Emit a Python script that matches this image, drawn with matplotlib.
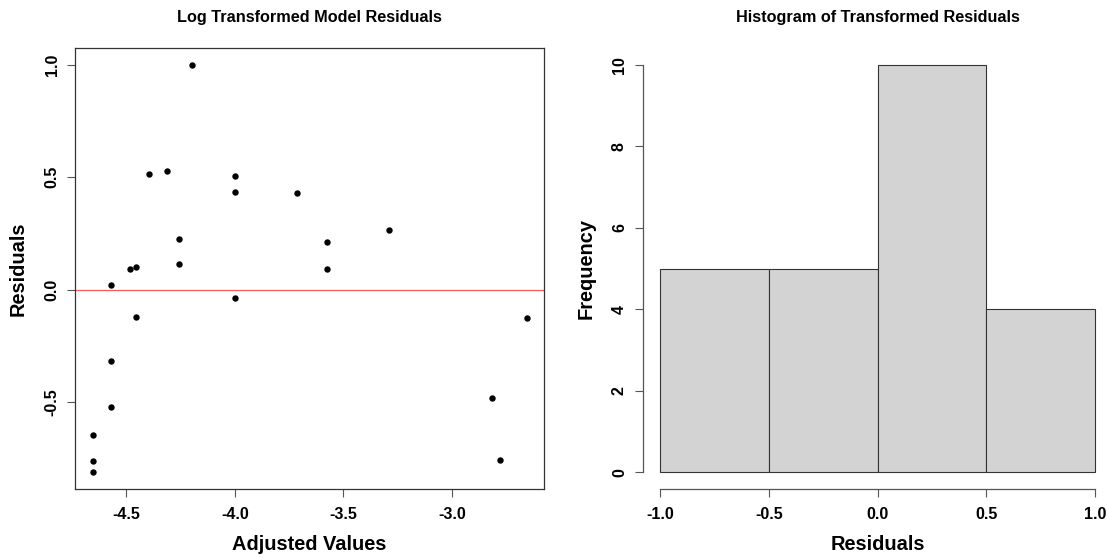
import numpy as np
import matplotlib
matplotlib.use("Agg")
from matplotlib import pyplot as plt

plt.rcParams['font.family'] = ['Liberation Sans', 'DejaVu Sans']
plt.rcParams['font.weight'] = 'bold'

# fitted (adjusted) values and residuals of the log model
adjusted = [-4.198, -4.398, -4.313, -4.000, -4.000, -3.716, -3.288, -4.257,
            -3.575, -4.257, -3.575, -4.482, -4.455, -4.570, -4.000, -4.455,
            -4.570, -4.570, -4.656, -4.656, -4.656, -2.816, -2.778, -2.655]
residuals = [1.000, 0.513, 0.528, 0.506, 0.436, 0.429, 0.265, 0.224,
             0.211, 0.114, 0.092, 0.092, 0.099, 0.020, -0.039, -0.123,
             -0.316, -0.523, -0.644, -0.760, -0.812, -0.482, -0.756, -0.126]

hist_breaks = [-1.0, -0.5, 0.0, 0.5, 1.0]
x_ticks_left = [-4.5, -4.0, -3.5, -3.0]
y_ticks_left = [-0.5, 0.0, 0.5, 1.0]
y_ticks_right = [0, 2, 4, 6, 8, 10]

W, H = 1107, 557
fig = plt.figure(figsize=(W / 100, H / 100), dpi=100)

line_col = '#333333'
tick_len = 8 * 0.72

def px(x, y):
    return x / W, 1 - y / H

def style_axis(ax):
    ax.tick_params(length=tick_len, width=0.8, color='#555555', labelsize=11.5,
                   direction='out')
    ax.tick_params(axis='x', pad=7.5)
    ax.tick_params(axis='y', pad=5.5)
    for lab in ax.get_yticklabels():
        lab.set_rotation(90)
        lab.set_va('center')
    for lab in ax.get_xticklabels() + ax.get_yticklabels():
        lab.set_fontweight('bold')

# ---- left: residuals vs adjusted values
ax1 = fig.add_axes([75.3 / W, 1 - 488.7 / H, 468.7 / W, 440.4 / H])
ax1.plot(adjusted, residuals, 'o', color='black', ms=4.6, mec='black', mew=0)
ax1.margins(0.04)
ax1.axhline(0, color='red', lw=0.9, alpha=0.65)
ax1.set_xticks(x_ticks_left)
ax1.set_xticklabels(['%.1f' % v for v in x_ticks_left])
ax1.set_yticks(y_ticks_left)
ax1.set_yticklabels(['%.1f' % v for v in y_ticks_left])
for s in ax1.spines.values():
    s.set_color(line_col)
    s.set_linewidth(0.9)
style_axis(ax1)

# ---- right: histogram of residuals
ax2 = fig.add_axes([642.6 / W, 1 - 488.7 / H, 469.8 / W, 440.4 / H])
ax2.hist(residuals, bins=hist_breaks, color='#d3d3d3', edgecolor=line_col, linewidth=0.8)
ax2.set_xlim(-1.08, 1.08)
ax2.set_ylim(-0.4, 10.4)
ax2.set_xticks(hist_breaks)
ax2.set_xticklabels(['%.1f' % v for v in hist_breaks])
ax2.set_yticks(y_ticks_right)
ax2.spines['top'].set_visible(False)
ax2.spines['right'].set_visible(False)
ax2.spines['bottom'].set_bounds(-1.0, 1.0)
ax2.spines['left'].set_bounds(0, 10)
for s in ('bottom', 'left'):
    ax2.spines[s].set_color('#555555')
    ax2.spines[s].set_linewidth(0.9)
style_axis(ax2)

# titles and axis labels, placed like R's base graphics
fig.text(*px(309.6, 17.5), 'Log Transformed Model Residuals', ha='center', va='center',
         fontsize=11.7, fontweight='bold')
fig.text(*px(877.5, 17.5), 'Histogram of Transformed Residuals', ha='center', va='center',
         fontsize=11.7, fontweight='bold')
fig.text(*px(309.6, 544), 'Adjusted Values', ha='center', va='center',
         fontsize=14.4, fontweight='bold')
fig.text(*px(877.5, 544), 'Residuals', ha='center', va='center',
         fontsize=14.4, fontweight='bold')
fig.text(*px(18.3, 268.5), 'Residuals', ha='center', va='center', rotation=90,
         fontsize=14.4, fontweight='bold')
fig.text(*px(586, 268.5), 'Frequency', ha='center', va='center', rotation=90,
         fontsize=14.4, fontweight='bold')

fig.savefig('out.png', dpi=100)
